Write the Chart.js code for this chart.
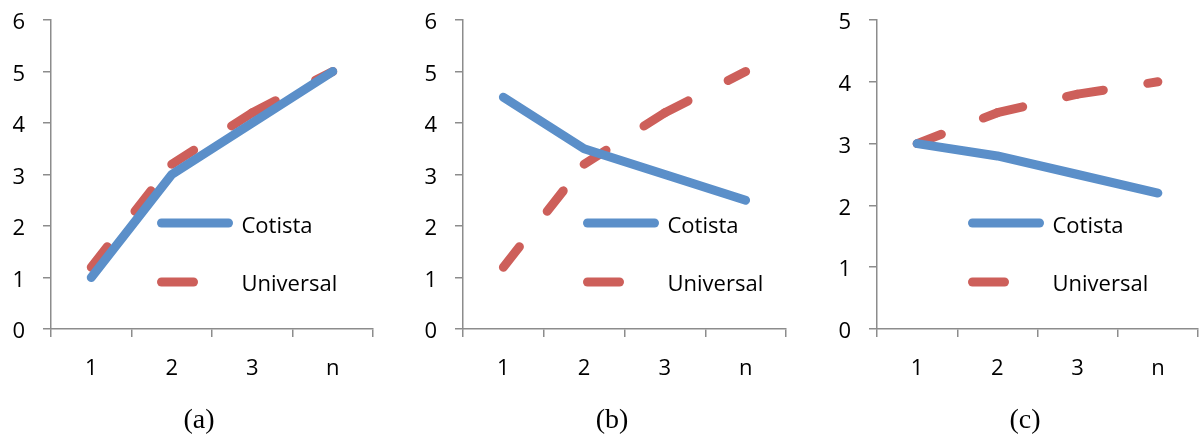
<!DOCTYPE html>
<html>
<head>
<meta charset="utf-8">
<script src="https://cdn.jsdelivr.net/npm/chart.js@4.4.1/dist/chart.umd.min.js"></script>
<style>
  html, body { margin: 0; padding: 0; background: #fff; overflow: hidden; }
  body { width: 1200px; height: 439px; position: relative; }
  .panel { position: absolute; top: 0; height: 439px; }
  .panel canvas { display: block; }
  .caption {
    position: absolute; top: 403px; width: 60px; margin-left: -30px;
    text-align: center; font-family: "Liberation Serif", "Times New Roman", serif;
    font-size: 28px; color: #000; line-height: 32px;
  }
</style>
</head>
<body>
<div class="panel" style="left:0px;width:400px"><canvas id="chartA" width="400" height="439"></canvas></div>
<div class="panel" style="left:412px;width:400px"><canvas id="chartB" width="400" height="439"></canvas></div>
<div class="panel" style="left:826px;width:374px"><canvas id="chartC" width="374" height="439"></canvas></div>
<div class="caption" style="left:199px">(a)</div>
<div class="caption" style="left:612px">(b)</div>
<div class="caption" style="left:1025px">(c)</div>

<script>
// Categories shared by all three panels
const categories = ['1', '2', '3', 'n'];
const seriesNames = ['Cotista', 'Universal'];

// Panel (a)
const cotistaA = [1, 3, 4, 5];
const universalA = [1.2, 3.2, 4.2, 5];
// Panel (b)
const cotistaB = [4.5, 3.5, 3, 2.5];
const universalB = [1.2, 3.2, 4.2, 5];
// Panel (c)
const cotistaC = [3, 2.8, 2.5, 2.2];
const universalC = [3, 3.5, 3.8, 4];

// Y-axis ranges per panel
const yMaxA = 6, yMaxB = 6, yMaxC = 5;

const BLUE = '#5b8fc9';
const RED = '#cd5f5a';
const AXIS = '#8c8c8c';
const FONT = "'Open Sans', 'Noto Sans', sans-serif";

Chart.defaults.font.family = FONT;
Chart.defaults.color = '#000';

// Legend drawn inside the plot: a line sample followed by the series name
const insideLegend = {
  id: 'insideLegend',
  afterDatasetsDraw(chart, args, opts) {
    const ctx = chart.ctx;
    const area = chart.chartArea;
    ctx.save();
    chart.data.datasets.forEach((ds, i) => {
      const y = opts.rows[i];
      const x0 = area.left + opts.x;
      const len = opts.lengths[i];
      ctx.beginPath();
      ctx.strokeStyle = ds.borderColor;
      ctx.lineWidth = ds.borderWidth;
      ctx.lineCap = 'round';
      ctx.setLineDash([]);
      ctx.moveTo(x0, y);
      ctx.lineTo(x0 + len, y);
      ctx.stroke();
      ctx.fillStyle = '#000';
      ctx.font = '22px ' + FONT;
      ctx.textAlign = 'left';
      ctx.textBaseline = 'alphabetic';
      ctx.fillText(ds.label, x0 + opts.textDx, opts.baselines[i]);
    });
    ctx.restore();
  }
};

function makeChart(id, cotista, universal, yMax, rightPad, legendX) {
  return new Chart(document.getElementById(id), {
    type: 'line',
    data: {
      labels: categories,
      datasets: [
        {
          label: seriesNames[0],
          data: cotista,
          borderColor: BLUE,
          backgroundColor: BLUE,
          borderWidth: 9,
          borderCapStyle: 'round',
          borderJoinStyle: 'round',
          pointRadius: 0,
          tension: 0
        },
        {
          label: seriesNames[1],
          data: universal,
          borderColor: RED,
          backgroundColor: RED,
          borderWidth: 9,
          borderCapStyle: 'round',
          borderJoinStyle: 'round',
          borderDash: [26, 45],
          pointRadius: 0,
          tension: 0,
          // each segment restarts its dash pattern
          segment: {
            borderDashOffset: c => (c.p0DataIndex % 2 ? 0.0001 : 0)
          }
        }
      ]
    },
    options: {
      responsive: false,
      animation: false,
      events: [],
      layout: { padding: { left: 0, right: rightPad, top: 20, bottom: 0 } },
      plugins: {
        legend: { display: false },
        tooltip: { enabled: false },
        insideLegend: {
          x: legendX,
          lengths: [67, 32],
          textDx: 80,
          rows: [223, 282],
          baselines: [233, 291]
        }
      },
      scales: {
        x: {
          offset: true,
          afterFit: s => { s.height = 110; },
          grid: {
            display: true, drawOnChartArea: false, drawTicks: true,
            tickLength: 8, color: AXIS, lineWidth: 1.5, offset: true
          },
          border: { display: true, color: AXIS, width: 1.5 },
          ticks: { font: { size: 22 }, color: '#000', padding: 19 }
        },
        y: {
          min: 0,
          max: yMax,
          afterFit: s => { s.width = 51; s.paddingTop = 0; s.paddingBottom = 0; },
          grid: {
            display: true, drawOnChartArea: false, drawTicks: true,
            tickLength: 8, color: AXIS, lineWidth: 1.5
          },
          border: { display: true, color: AXIS, width: 1.5 },
          ticks: { stepSize: 1, font: { size: 22 }, color: '#000', padding: 18, labelOffset: 3 }
        }
      }
    },
    plugins: [insideLegend]
  });
}

makeChart('chartA', cotistaA, universalA, yMaxA, 27, 110.5);
makeChart('chartB', cotistaB, universalB, yMaxB, 26, 124.5);
makeChart('chartC', cotistaC, universalC, yMaxC, 2, 95.5);
</script>
</body>
</html>
